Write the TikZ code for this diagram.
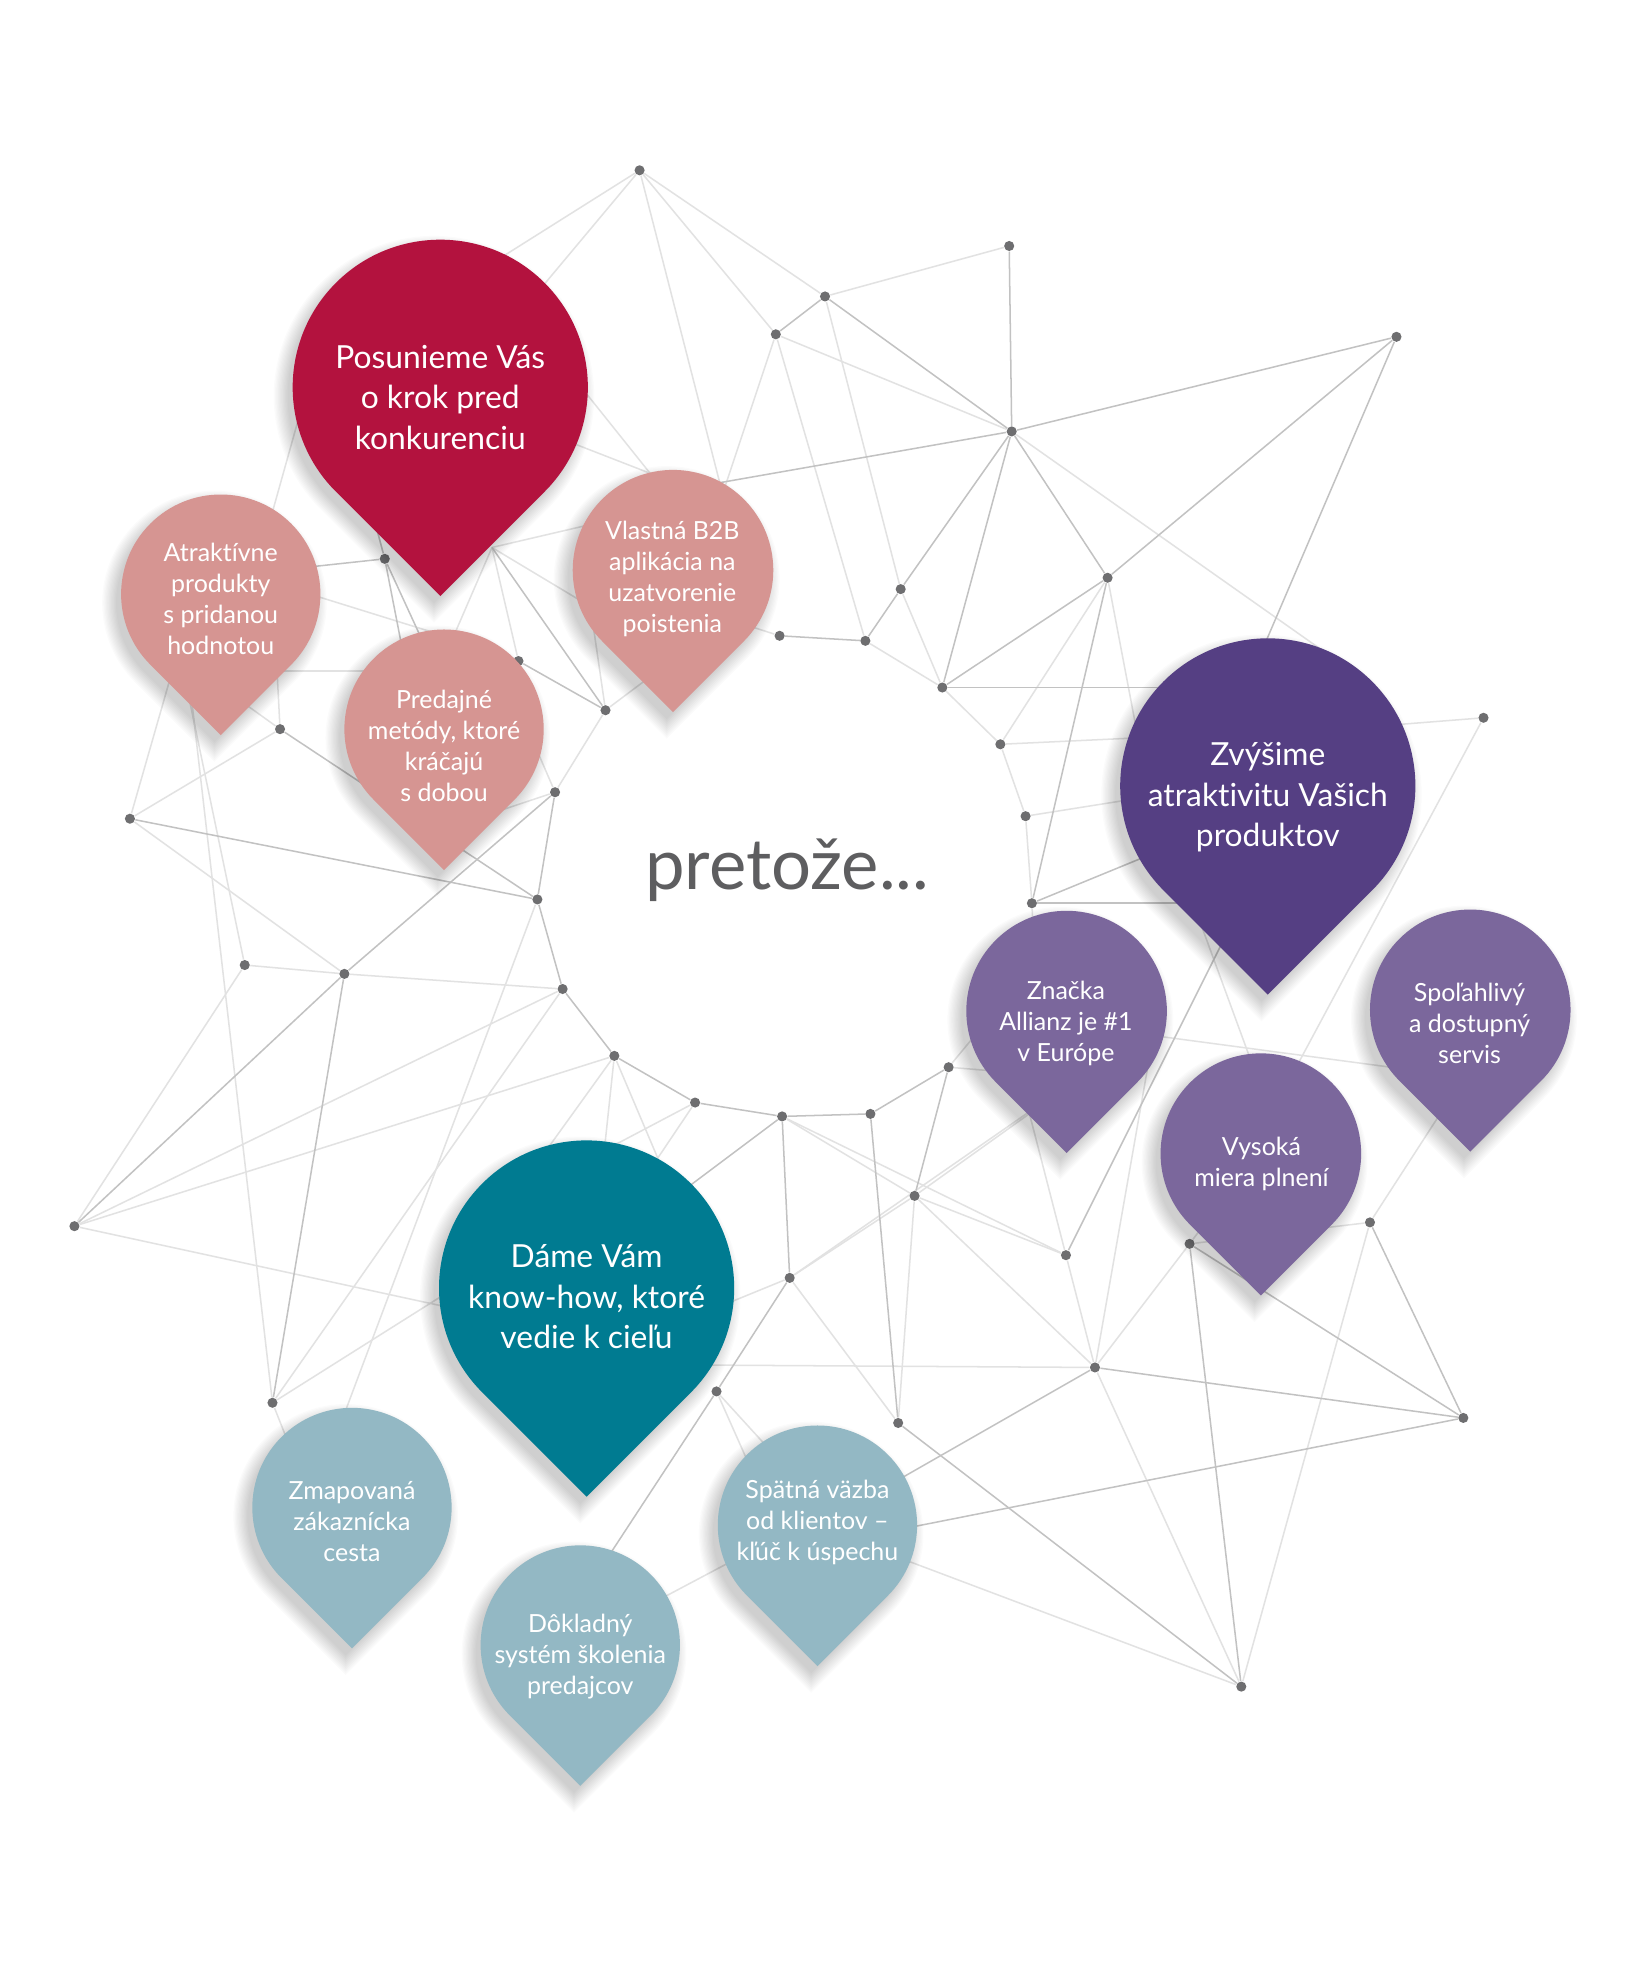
\documentclass[tikz,border=0pt]{standalone}
\usepackage{fontspec}
\setmainfont{Lato}[Ligatures={TeX,NoCommon}]
\usetikzlibrary{backgrounds}
\definecolor{crimson}{HTML}{B3123E}
\definecolor{rosepin}{HTML}{D69592}
\definecolor{plum}{HTML}{553F83}
\definecolor{lilac}{HTML}{7B679C}
\definecolor{petrol}{HTML}{007B91}
\definecolor{mist}{HTML}{93B8C4}
\definecolor{dotgray}{HTML}{6E6E70}
\definecolor{linemid}{HTML}{C2C2C2}
\definecolor{linelight}{HTML}{E2E2E2}
\definecolor{textgray}{HTML}{5E5E60}

% drop pin: centre x, centre y, radius, colour (soft shadow first)
\newcommand{\droppin}[4]{%
  \foreach \k in {1,...,12}
    \fill[black, opacity=0.016]
      ({#1-5},{#2+7}) ++(135:{#3+11-\k}) arc[start angle=135, end angle=405, radius={#3+11-\k}]
      -- ({#1-5},{#2+7+1.4142*(#3+11-\k)}) -- cycle;
  \fill[#4] (#1,#2) ++(135:#3) arc[start angle=135, end angle=405, radius=#3]
      -- (#1,{#2+1.4142*#3}) -- cycle;
}

\begin{document}
\begin{tikzpicture}[
  x=0.5pt, y=-0.5pt,
  dot/.style={circle, fill=dotgray, inner sep=0pt, minimum size=4pt},
  lnmid/.style={draw=linemid, line width=0.6pt},
  lnlight/.style={draw=linelight, line width=0.6pt},
  bigtext/.style={text=white, align=center, font=\fontsize{12.6}{16}\selectfont},
  smalltext/.style={text=white, align=center, font=\fontsize{9.9}{12.3}\selectfont}
]
\useasboundingbox (0,0) rectangle (1302,1568);

% network dots
\foreach \nm/\px/\py in {a/507/135, b/800/195, c/654/235, d/615/265, e/1107/267,
    f/802/342, g/305/443, h/878/458, i/714/467, j/618/504, k/686/508, l/411/524,
    m/480/563, n/747/545, o/222/578, p/1176/569, q/793/590, r/103/649, s/440/628,
    t/813/647, u/426/713, v/818/716, w/194/765, x/273/772, y/446/784, z/487/837,
    A/752/846, B/551/874, C/620/885, D/690/883, E/725/948, F/59/972, G/845/995,
    H/1086/969, I/943/986, J/626/1013, K/868/1084, L/216/1112, M/568/1103,
    N/712/1128, O/1160/1124, P/984/1337}
  \node[dot] (\nm) at (\px,\py) {};

% line ends hidden under the pins
\foreach \nm/\px/\py in {x1/390/434, p1/380/215, p2/415/245, p3/293/398, p4/440/281,
    p5/430/342, p6/240/320, v1/575/400, v2/565/415, v3/540/388, v4/590/495,
    v5/480/413, v6/520/512, v7/465/460, v8/540/518, v9/520/381, v10/520/377,
    at1/240/450, at2/190/555, at3/219/520, at4/140/520, at5/145/530, at6/147/512,
    at7/212/420, at8/210/532, at9/220/463, pr1/320/520, pr2/345/530, pr3/355/515,
    pr4/380/648, pr5/415/570, pr6/300/532, pr7/352/504, zv1/990/540, zv2/1090/545,
    zv3/905/600, zv4/975/735, zv5/1100/575, zv6/900/585, zv7/920/630, zv8/940/716,
    zv9/940/545, zv10/930/670, zv11/940/700, zn1/790/800, zn2/800/850, zn3/820/880,
    zn4/825/875, zn5/910/845, zn6/805/840, zn7/820/760, zn8/870/815, vy1/970/950,
    vy2/1020/860, vy3/995/850, sp1/1150/870, sp2/1110/847, da1/400/1046,
    da2/400/996, da3/420/930, da4/475/950, da5/535/950, da6/460/922, da7/510/935,
    da8/520/960, da9/560/1040, da10/540/1082, zm1/235/1160, zm2/262/1150,
    dk1/475/1245, dk2/500/1280, st1/620/1160, st2/600/1175, st3/700/1180,
    st4/700/1215, st5/700/1230, st6/600/1227}
  \coordinate (\nm) at (\px,\py);

\begin{scope}[on background layer]
\fill[white] (0,0) rectangle (1302,1568);
\foreach \p/\q in {a/p1, a/p2, a/v1, a/c, a/d, b/c, c/i, d/f, d/k, d/v2, f/zv2,
    h/q, h/zv3, i/n, j/v4, k/n, x1/l, x1/v5, x1/v6, x1/pr3, m/s, m/v7, m/v8,
    s/pr4, s/pr5, o/r, o/at2, o/at3, r/at4, r/x, w/x, w/F, w/at5, x/y, F/y, F/z,
    F/da1, L/y, L/at6, L/da2, L/zm1, u/zm2, z/da3, z/da4, z/da5, B/da6, B/da7,
    C/G, C/E, E/G, E/K, E/J, E/N, E/zn3, J/N, J/da9, J/zn4, M/st1, M/st2, K/G,
    K/I, K/P, K/da10, K/zn5, G/zn6, A/zn1, A/zn2, I/H, I/vy1, H/P, H/sp1, p/zv5,
    p/vy2, q/n, q/t, q/zv6, t/v, t/zv7, v/zn7, st5/P, p4/v9, p5/v10, p6/at7,
    at8/pr6, at9/pr7, zn8/sp2, zv11/vy3, dk2/st6}
  \draw[lnlight] (\p) -- (\q);
\foreach \p/\q in {c/d, c/f, e/f, e/h, f/h, f/i, f/n, i/k, j/k, h/n, h/v, b/f,
    e/zv1, f/v3, n/zv9, v/zv8, v/zv10, s/u, r/u, s/x, x/F, x/L, u/y, y/z, z/B,
    B/C, C/D, D/A, A/E, C/J, D/N, J/M, N/P, K/O, I/O, H/O, I/P, K/st3, O/st4,
    x1/m, l/m, o/u, g/at1, g/p3, g/pr1, g/pr2, M/dk1, C/da8, G/zv4}
  \draw[lnmid] (\p) -- (\q);
\end{scope}

% pins
\droppin{349}{307}{117}{crimson}
\droppin{175}{471}{79}{rosepin}
\droppin{533.5}{452}{79.5}{rosepin}
\droppin{352}{578}{79}{rosepin}
\droppin{1005}{623}{117}{plum}
\droppin{845.5}{801.5}{79.5}{lilac}
\droppin{1165.5}{800.5}{79.5}{lilac}
\droppin{999.5}{914.5}{79.5}{lilac}
\droppin{465}{1021}{117}{petrol}
\droppin{279}{1195}{79}{mist}
\droppin{648}{1209}{79}{mist}
\droppin{460}{1304}{79}{mist}

% texts
\node[text=textgray, font=\fontsize{28}{30}\selectfont] (pretoze) at (624,690) {pretože...};
\node[bigtext] (posun) at (349,315) {Posunieme Vás\\o krok pred\\konkurenciu};
\node[smalltext] (atrakt) at (175,475) {Atraktívne\\produkty\\s pridanou\\hodnotou};
\node[smalltext] (vlastna) at (533,459) {Vlastná B2B\\aplikácia na\\uzatvorenie\\poistenia};
\node[smalltext] (predaj) at (352,591) {Predajné\\metódy, ktoré\\kráčajú\\s dobou};
\node[bigtext] (zvysime) at (1005,632) {Zvýšime\\atraktivitu Vašich\\produktov};
\node[smalltext] (znacka) at (845,811) {Značka\\Allianz je \#1\\v Európe};
\node[smalltext] (spolah) at (1165,811) {Spoľahlivý\\a dostupný\\servis};
\node[smalltext] (vysoka) at (1000,923) {Vysoká\\miera plnení};
\node[bigtext] (dame) at (465,1028) {Dáme Vám\\know-how, ktoré\\vedie k cieľu};
\node[smalltext] (zmap) at (279,1206) {Zmapovaná\\zákaznícka\\cesta};
\node[smalltext] (spatna) at (648,1207) {Spätná väzba\\od klientov –\\kľúč k úspechu};
\node[smalltext] (doklad) at (460,1313) {Dôkladný\\systém školenia\\predajcov};
\end{tikzpicture}
\end{document}
